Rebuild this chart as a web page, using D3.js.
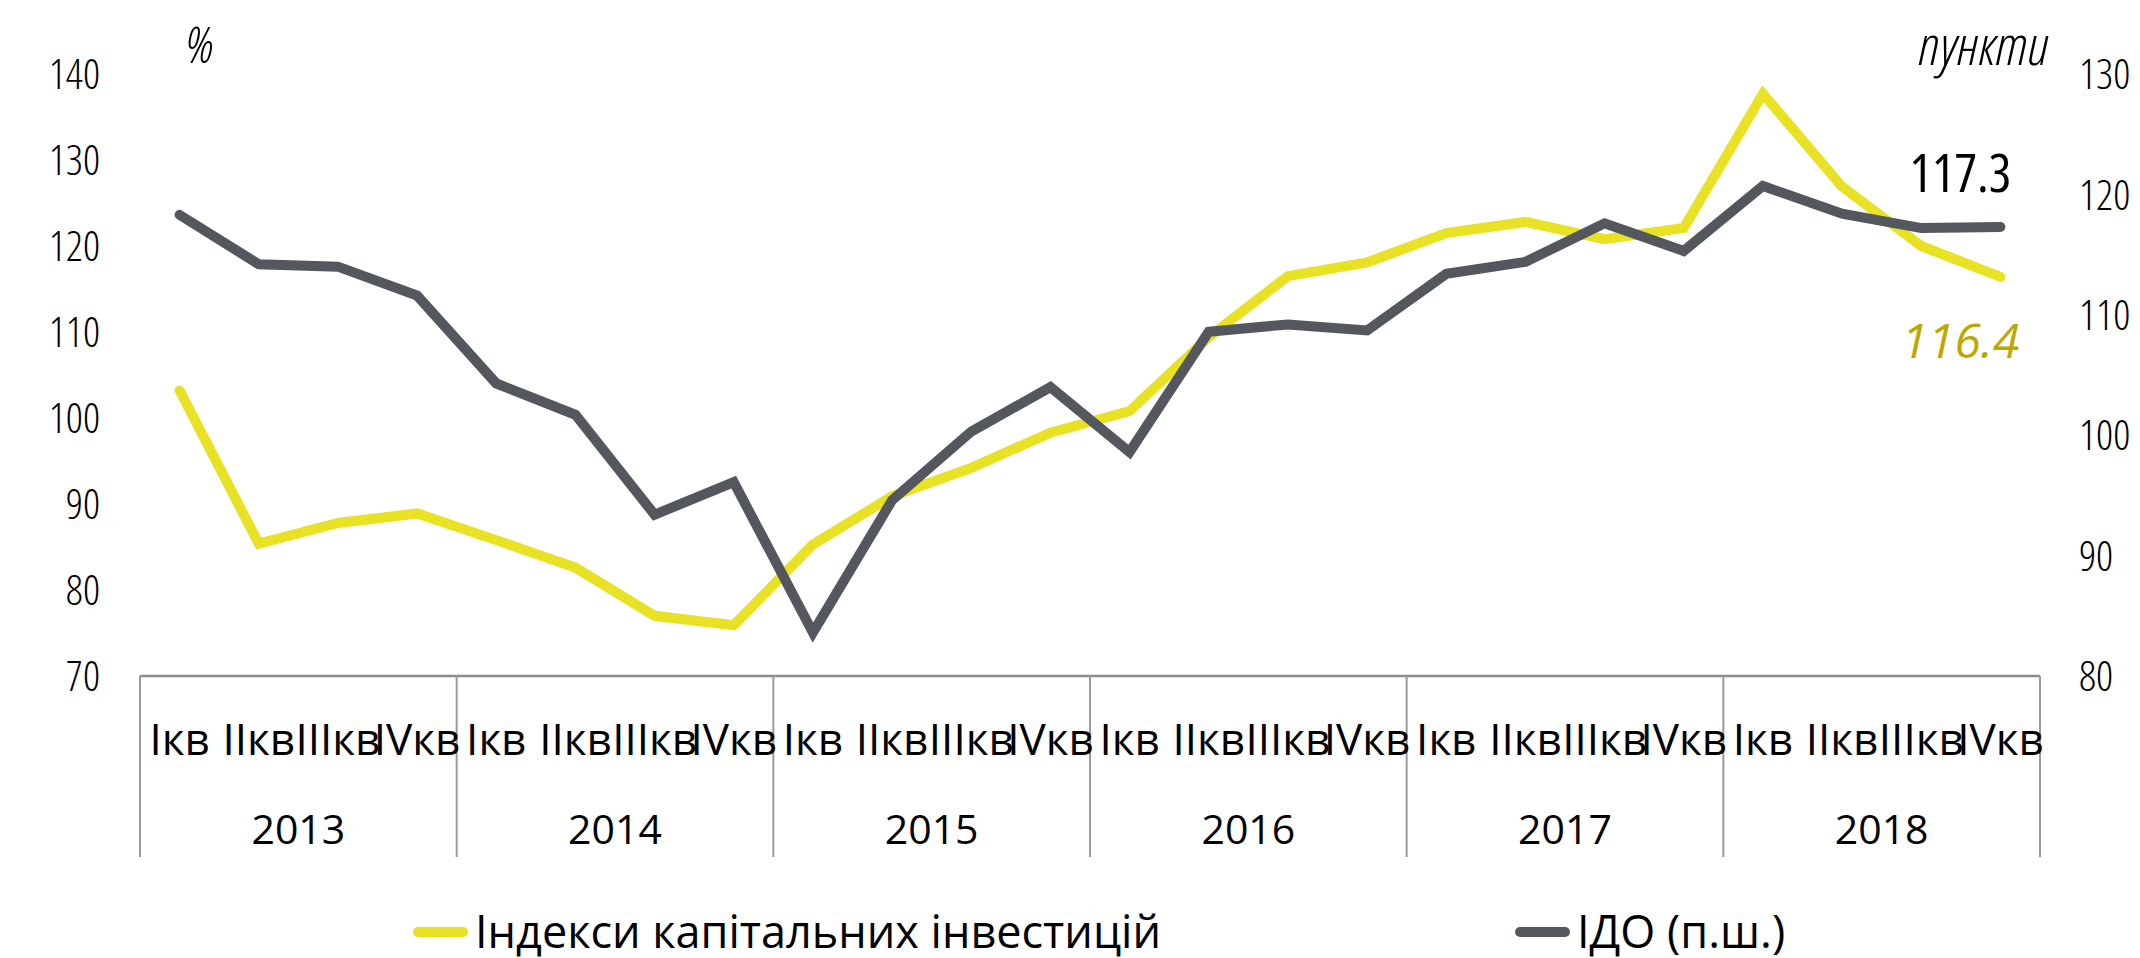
<!DOCTYPE html>
<html>
<head>
<meta charset="utf-8">
<script src="https://cdn.jsdelivr.net/npm/d3@7"></script>
<style>
  body { margin: 0; background: #fff; }
  text { font-family: "Open Sans", sans-serif; font-stretch: 90%; font-weight: 400; fill: #000; }
</style>
</head>
<body>
<div class="chart"></div>
<script>
// data
var years = ["2013", "2014", "2015", "2016", "2017", "2018"];
var quarters = ["Iкв", "IIкв", "IIIкв", "IVкв"];
var leftTicks = [70, 80, 90, 100, 110, 120, 130, 140];
var rightTicks = [80, 90, 100, 110, 120, 130];

// Індекси капітальних інвестицій, % (left axis)
var capInv = [103.2, 85.4, 87.8, 88.9, 85.8, 82.6, 77.0, 75.9,
              85.3, 90.9, 94.2, 98.3, 100.8, 109.4, 116.5, 118.1,
              121.5, 122.8, 120.8, 122.1, 137.7, 126.9, 120.0, 116.4];
// ІДО, пункти (right axis)
var ido = [118.3, 114.2, 114.0, 111.6, 104.3, 101.7, 93.4, 96.1,
           83.6, 94.6, 100.3, 104.0, 98.6, 108.6, 109.2, 108.7,
           113.4, 114.4, 117.6, 115.3, 120.7, 118.4, 117.2, 117.3];

var legendNames = ["Індекси капітальних інвестицій", "ІДО (п.ш.)"];
var yellow = "#e8e124";
var grey = "#54585e";

var svgWidth = 2140;
var svgHeight = 958;

var margin = { top: 74, right: 100, bottom: 282, left: 140 };
var width = svgWidth - margin.left - margin.right;
var height = svgHeight - margin.top - margin.bottom;

var svg = d3.select(".chart")
  .append("svg")
  .attr("width", svgWidth)
  .attr("height", svgHeight);

var chartGroup = svg.append("g")
  .attr("transform", `translate(${margin.left}, ${margin.top})`);

// quarter index 0..23
var idx = d3.range(years.length * quarters.length);

var xScale = d3.scaleBand()
  .domain(idx)
  .range([0, width]);

var yearScale = d3.scaleBand()
  .domain(years)
  .range([0, width]);

var yLeft = d3.scaleLinear()
  .domain([70, 140])
  .range([height, 0]);

var yRight = d3.scaleLinear()
  .domain([80, 130])
  .range([height, 0]);

// left axis labels
var leftAxis = d3.axisLeft(yLeft).tickValues(leftTicks).tickSize(0).tickPadding(40);
chartGroup.append("g")
  .call(leftAxis)
  .call(g => g.select(".domain").remove())
  .selectAll("text")
  .style("font-size", "42px")
  .style("font-stretch", "75%")
  .style("font-weight", 350)
  .attr("dy", "0.35em");

// right axis labels
var rightAxis = d3.axisRight(yRight).tickValues(rightTicks).tickSize(0).tickPadding(39);
chartGroup.append("g")
  .attr("transform", `translate(${width}, 0)`)
  .call(rightAxis)
  .call(g => g.select(".domain").remove())
  .selectAll("text")
  .style("font-size", "42px")
  .style("font-stretch", "75%")
  .style("font-weight", 350)
  .attr("dy", "0.35em");

// x axis: baseline, year separators, quarter + year labels
chartGroup.append("line")
  .attr("x1", 0).attr("x2", width)
  .attr("y1", height).attr("y2", height)
  .attr("stroke", "#8c8c8c")
  .attr("stroke-width", 2.5);

var bounds = years.map(d => yearScale(d)).concat([width]);
chartGroup.selectAll(".sep")
  .data(bounds)
  .enter()
  .append("line")
  .attr("class", "sep")
  .attr("x1", d => d).attr("x2", d => d)
  .attr("y1", height).attr("y2", height + 181)
  .attr("stroke", "#9a9a9a")
  .attr("stroke-width", 2);

chartGroup.selectAll(".qlabel")
  .data(idx)
  .enter()
  .append("text")
  .attr("class", "qlabel")
  .attr("x", d => xScale(d) + xScale.bandwidth() / 2)
  .attr("y", height + 64)
  .attr("dy", "0.35em")
  .style("text-anchor", "middle")
  .style("font-size", "44px")
  .style("font-stretch", "92%")
  .text(d => quarters[d % 4]);

chartGroup.selectAll(".ylabel")
  .data(years)
  .enter()
  .append("text")
  .attr("class", "ylabel")
  .attr("x", d => yearScale(d) + yearScale.bandwidth() / 2)
  .attr("y", height + 154)
  .attr("dy", "0.35em")
  .style("text-anchor", "middle")
  .style("font-size", "41px")
  .style("font-stretch", "90%")
  .text(d => d);

// lines
var lineLeft = d3.line()
  .x((d, i) => xScale(i) + xScale.bandwidth() / 2)
  .y(d => yLeft(d));

var lineRight = d3.line()
  .x((d, i) => xScale(i) + xScale.bandwidth() / 2)
  .y(d => yRight(d));

chartGroup.append("path")
  .datum(capInv)
  .attr("d", lineLeft)
  .attr("fill", "none")
  .attr("stroke", yellow)
  .attr("stroke-width", 10)
  .attr("stroke-linecap", "round");

chartGroup.append("path")
  .datum(ido)
  .attr("d", lineRight)
  .attr("fill", "none")
  .attr("stroke", grey)
  .attr("stroke-width", 10)
  .attr("stroke-linecap", "round");

// last value labels
var lastX = xScale(idx.length - 1) + xScale.bandwidth() / 2;
chartGroup.append("text")
  .attr("x", lastX - 40)
  .attr("y", yRight(ido[ido.length - 1]) - 53)
  .attr("dy", "0.35em")
  .style("text-anchor", "middle")
  .style("font-size", "53px")
  .style("font-stretch", "75%")
  .text(ido[ido.length - 1].toFixed(1));

chartGroup.append("text")
  .attr("x", lastX - 40)
  .attr("y", yLeft(capInv[capInv.length - 1]) + 64)
  .attr("dy", "0.35em")
  .style("text-anchor", "middle")
  .style("font-size", "48px")
  .style("font-stretch", "93%")
  .style("font-style", "italic")
  .style("fill", "#bca800")
  .text(capInv[capInv.length - 1].toFixed(1));

// unit labels
svg.append("text")
  .attr("x", 200).attr("y", 45)
  .attr("dy", "0.35em")
  .style("text-anchor", "middle")
  .style("font-size", "50px")
  .style("font-stretch", "75%")
  .style("font-weight", 350)
  .style("font-style", "italic")
  .text("%");

svg.append("text")
  .attr("x", 2049).attr("y", 45)
  .attr("dy", "0.35em")
  .style("text-anchor", "end")
  .style("font-size", "56px")
  .style("font-stretch", "75%")
  .style("font-weight", 350)
  .style("font-style", "italic")
  .text("пункти");

// legend
var legendItems = [
  { name: legendNames[0], color: yellow, x: 413 },
  { name: legendNames[1], color: grey, x: 1515 }
];
var legend = svg.selectAll(".legend")
  .data(legendItems)
  .enter()
  .append("g")
  .attr("class", "legend")
  .attr("transform", d => `translate(${d.x}, 932)`);

legend.append("line")
  .attr("x1", 5).attr("x2", 50)
  .attr("y1", 0).attr("y2", 0)
  .attr("stroke", d => d.color)
  .attr("stroke-width", 10)
  .attr("stroke-linecap", "round");

legend.append("text")
  .attr("x", 62)
  .attr("dy", "0.35em")
  .style("font-size", "45px")
  .style("font-stretch", "90%")
  .text(d => d.name);
</script>
</body>
</html>
